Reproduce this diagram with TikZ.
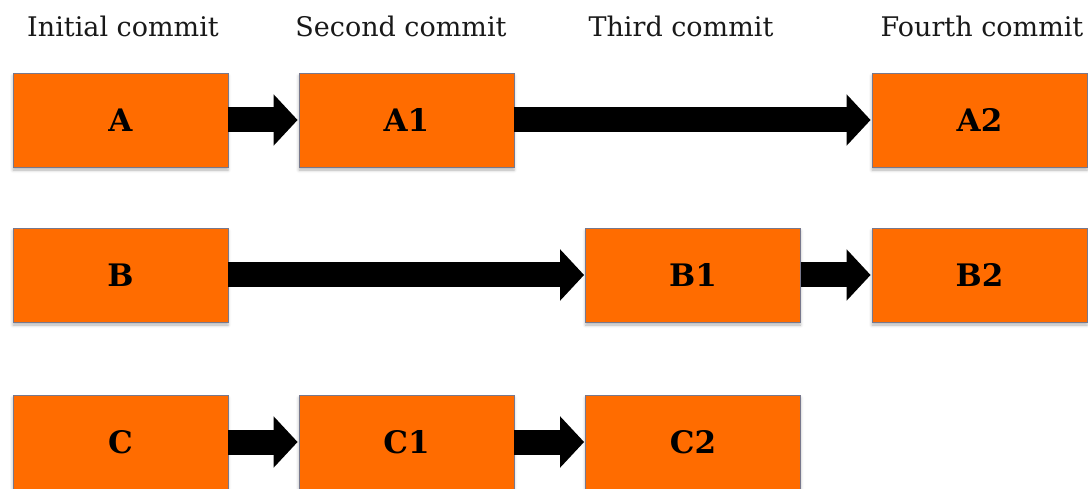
\documentclass[tikz,border=0pt]{standalone}
\usepackage{fontspec}
\setmainfont{DejaVu Serif}
\usetikzlibrary{arrows.meta,shadows.blur}
\definecolor{commitfill}{RGB}{255,108,0}
\definecolor{commitedge}{RGB}{120,120,140}
\tikzset{
  commit/.style={draw=commitedge, line width=0.8pt, fill=commitfill,
    minimum width=215pt, minimum height=94pt, inner sep=0pt,
    font=\fontsize{31}{34}\selectfont\bfseries,
    blur shadow={shadow xshift=0pt, shadow yshift=-3pt, shadow blur radius=3pt, shadow opacity=30}},
  header/.style={anchor=base, font=\fontsize{27}{30}\selectfont, text=black!90},
  link/.style={line width=25pt, draw=black,
    -{Triangle[width=50pt,length=24pt]}, shorten >=1pt}
}
\begin{document}
\begin{tikzpicture}[x=1pt,y=-1pt]
\useasboundingbox (0,0) rectangle (1088,489);
% column headers
\node[header] (h1) at (123,37) {Initial commit};
\node[header] (h2) at (401,37) {Second commit};
\node[header] (h3) at (681,37) {Third commit};
\node[header] (h4) at (982,37) {Fourth commit};
% commits
\node[commit] (a)  at (120.5,120) {A};
\node[commit] (a1) at (406.5,120) {A1};
\node[commit] (a2) at (979.5,120) {A2};
\node[commit] (b)  at (120.5,275) {B};
\node[commit] (b1) at (693,275) {B1};
\node[commit] (b2) at (979.5,275) {B2};
\node[commit] (c)  at (120.5,442) {C};
\node[commit] (c1) at (406.5,442) {C1};
\node[commit] (c2) at (693,442) {C2};
% history links
\draw[link] (a.east) -- (a1.west);
\draw[link] (a1.east) -- (a2.west);
\draw[link] (b.east) -- (b1.west);
\draw[link] (b1.east) -- (b2.west);
\draw[link] (c.east) -- (c1.west);
\draw[link] (c1.east) -- (c2.west);
\end{tikzpicture}
\end{document}
